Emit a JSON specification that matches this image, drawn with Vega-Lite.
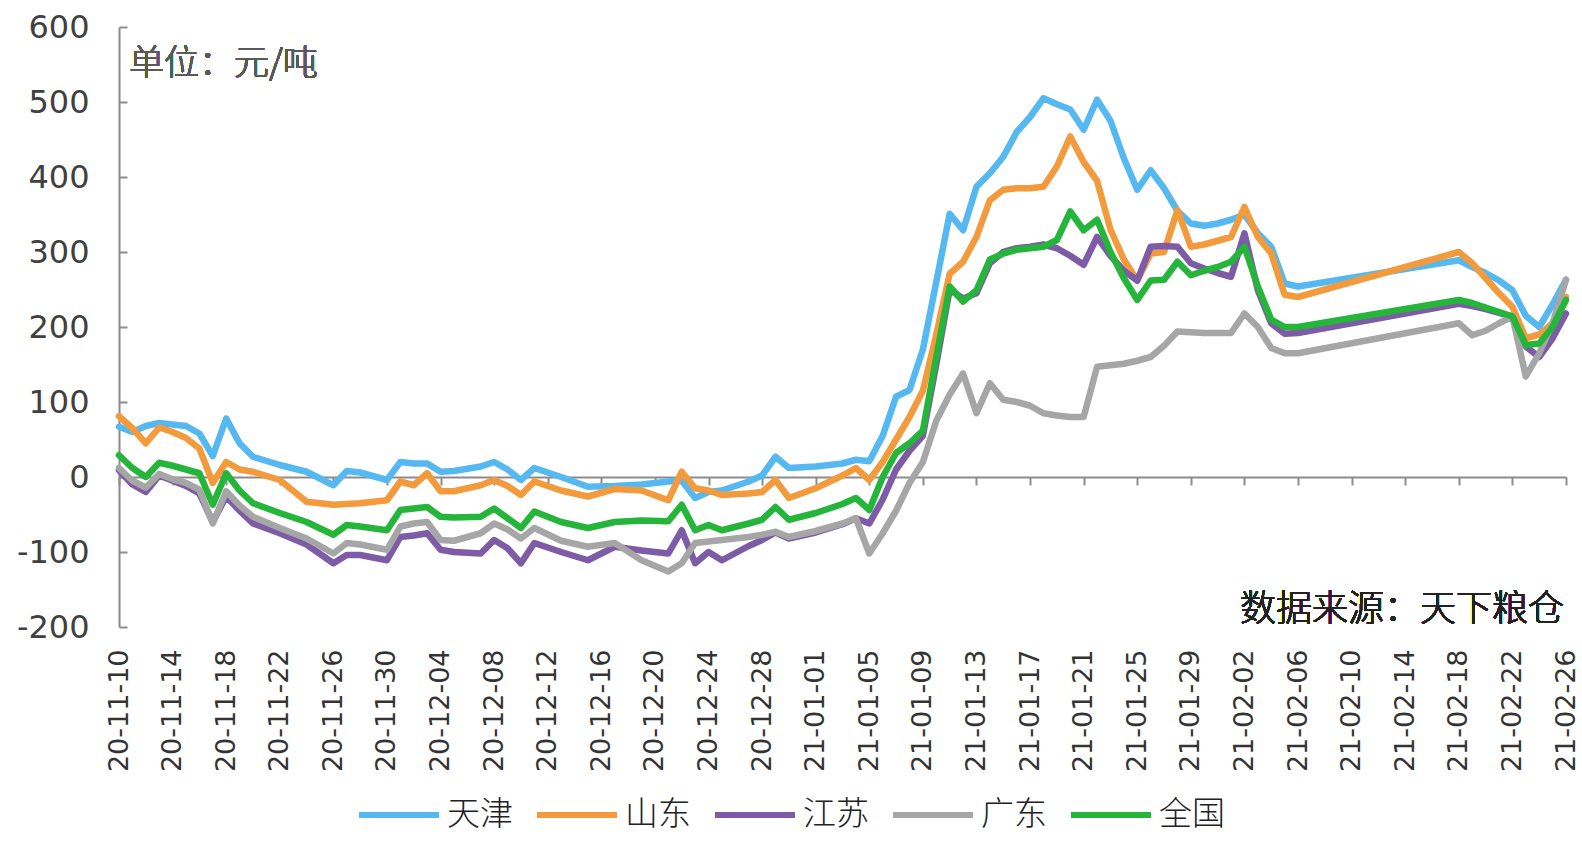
{
  "$schema": "https://vega.github.io/schema/vega-lite/v6.json",
  "width": 1447,
  "height": 600,
  "autosize": {"type": "none"},
  "padding": {"left": 119, "top": 27, "right": 16, "bottom": 215},
  "background": "white",
  "config": {"view": {"stroke": null}, "font": "Noto Sans CJK SC"},
  "data": {"values": [
    {"date":"2020/11/10","天津":67,"山东":81,"江苏":9,"广东":12,"全国":29},
    {"date":"2020/11/11","天津":60,"山东":65,"江苏":-10,"广东":-5,"全国":12},
    {"date":"2020/11/12","天津":68,"山东":45,"江苏":-20,"广东":-14,"全国":0},
    {"date":"2020/11/13","天津":72,"山东":66,"江苏":2,"广东":4,"全国":19},
    {"date":"2020/11/14","天津":70,"山东":60,"江苏":-5,"广东":-3,"全国":15},
    {"date":"2020/11/15","天津":68,"山东":52,"江苏":-12,"广东":-8,"全国":10},
    {"date":"2020/11/16","天津":58,"山东":38,"江苏":-22,"广东":-17,"全国":5},
    {"date":"2020/11/17","天津":28,"山东":-8,"江苏":-60,"广东":-62,"全国":-37},
    {"date":"2020/11/18","天津":78,"山东":20,"江苏":-26,"广东":-19,"全国":5},
    {"date":"2020/11/19","天津":45,"山东":10,"江苏":-45,"广东":-38,"全国":-18},
    {"date":"2020/11/20","天津":27,"山东":7,"江苏":-62,"广东":-53,"全国":-35},
    {"date":"2020/11/22","天津":16,"山东":-4,"江苏":-75,"广东":-68,"全国":-48},
    {"date":"2020/11/24","天津":7,"山东":-33,"江苏":-90,"广东":-82,"全国":-60},
    {"date":"2020/11/26","天津":-11,"山东":-37,"江苏":-115,"广东":-102,"全国":-77},
    {"date":"2020/11/27","天津":8,"山东":-36,"江苏":-104,"广东":-88,"全国":-64},
    {"date":"2020/11/28","天津":6,"山东":-35,"江苏":-104,"广东":-90,"全国":-66},
    {"date":"2020/11/30","天津":-4,"山东":-31,"江苏":-111,"广东":-97,"全国":-71},
    {"date":"2020/12/01","天津":20,"山东":-6,"江苏":-80,"广东":-66,"全国":-44},
    {"date":"2020/12/02","天津":18,"山东":-11,"江苏":-78,"广东":-62,"全国":-42},
    {"date":"2020/12/03","天津":18,"山东":5,"江苏":-75,"广东":-60,"全国":-40},
    {"date":"2020/12/04","天津":7,"山东":-19,"江苏":-97,"广东":-84,"全国":-53},
    {"date":"2020/12/05","天津":8,"山东":-19,"江苏":-100,"广东":-85,"全国":-54},
    {"date":"2020/12/07","天津":14,"山东":-11,"江苏":-102,"广东":-75,"全国":-53},
    {"date":"2020/12/08","天津":20,"山东":-4,"江苏":-84,"广东":-62,"全国":-42},
    {"date":"2020/12/09","天津":10,"山东":-12,"江苏":-95,"广东":-70,"全国":-55},
    {"date":"2020/12/10","天津":-4,"山东":-24,"江苏":-115,"广东":-82,"全国":-68},
    {"date":"2020/12/11","天津":12,"山东":-6,"江苏":-88,"广东":-68,"全国":-46},
    {"date":"2020/12/13","天津":0,"山东":-18,"江苏":-100,"广东":-85,"全国":-60},
    {"date":"2020/12/15","天津":-13,"山东":-26,"江苏":-111,"广东":-93,"全国":-68},
    {"date":"2020/12/17","天津":-12,"山东":-16,"江苏":-93,"广东":-88,"全国":-60},
    {"date":"2020/12/19","天津":-10,"山东":-18,"江苏":-98,"广东":-111,"全国":-58},
    {"date":"2020/12/21","天津":-6,"山东":-31,"江苏":-102,"广东":-126,"全国":-59},
    {"date":"2020/12/22","天津":-5,"山东":7,"江苏":-71,"广东":-115,"全国":-37},
    {"date":"2020/12/23","天津":-28,"山东":-15,"江苏":-115,"广东":-88,"全国":-71},
    {"date":"2020/12/24","天津":-20,"山东":-18,"江苏":-100,"广东":-86,"全国":-64},
    {"date":"2020/12/25","天津":-18,"山东":-24,"江苏":-111,"广东":-84,"全国":-71},
    {"date":"2020/12/27","天津":-6,"山东":-22,"江苏":-92,"广东":-80,"全国":-62},
    {"date":"2020/12/28","天津":2,"山东":-20,"江苏":-84,"广东":-77,"全国":-57},
    {"date":"2020/12/29","天津":27,"山东":-4,"江苏":-74,"广东":-73,"全国":-40},
    {"date":"2020/12/30","天津":12,"山东":-28,"江苏":-82,"广东":-80,"全国":-57},
    {"date":"2021/01/01","天津":14,"山东":-15,"江苏":-74,"广东":-72,"全国":-48},
    {"date":"2021/01/03","天津":18,"山东":2,"江苏":-63,"广东":-62,"全国":-36},
    {"date":"2021/01/04","天津":23,"山东":12,"江苏":-55,"广东":-55,"全国":-28},
    {"date":"2021/01/05","天津":21,"山东":-4,"江苏":-62,"广东":-102,"全国":-44},
    {"date":"2021/01/06","天津":55,"山东":20,"江苏":-30,"广东":-75,"全国":0},
    {"date":"2021/01/07","天津":107,"山东":50,"江苏":10,"广东":-45,"全国":32},
    {"date":"2021/01/08","天津":116,"山东":80,"江苏":35,"广东":-8,"全国":45},
    {"date":"2021/01/09","天津":170,"山东":115,"江苏":55,"广东":20,"全国":62},
    {"date":"2021/01/10","天津":260,"山东":190,"江苏":150,"广东":75,"全国":160},
    {"date":"2021/01/11","天津":351,"山东":271,"江苏":250,"广东":110,"全国":254},
    {"date":"2021/01/12","天津":329,"山东":287,"江苏":238,"广东":138,"全国":234},
    {"date":"2021/01/13","天津":387,"山东":320,"江苏":245,"广东":85,"全国":249},
    {"date":"2021/01/14","天津":405,"山东":369,"江苏":285,"广东":125,"全国":290},
    {"date":"2021/01/15","天津":427,"山东":383,"江苏":300,"广东":103,"全国":298},
    {"date":"2021/01/16","天津":460,"山东":385,"江苏":305,"广东":100,"全国":303},
    {"date":"2021/01/17","天津":480,"山东":385,"江苏":307,"广东":95,"全国":305},
    {"date":"2021/01/18","天津":505,"山东":387,"江苏":310,"广东":85,"全国":307},
    {"date":"2021/01/19","天津":497,"山东":414,"江苏":305,"广东":82,"全国":316},
    {"date":"2021/01/20","天津":490,"山东":454,"江苏":295,"广东":80,"全国":354},
    {"date":"2021/01/21","天津":463,"山东":420,"江苏":283,"广东":80,"全国":329},
    {"date":"2021/01/22","天津":503,"山东":395,"江苏":320,"广东":147,"全国":343},
    {"date":"2021/01/23","天津":475,"山东":330,"江苏":295,"广东":149,"全国":300},
    {"date":"2021/01/24","天津":425,"山东":290,"江苏":275,"广东":151,"全国":265},
    {"date":"2021/01/25","天津":383,"山东":262,"江苏":262,"广东":155,"全国":236},
    {"date":"2021/01/26","天津":409,"山东":298,"江苏":307,"广东":160,"全国":262},
    {"date":"2021/01/27","天津":385,"山东":300,"江苏":308,"广东":175,"全国":263},
    {"date":"2021/01/28","天津":355,"山东":356,"江苏":307,"广东":194,"全国":287},
    {"date":"2021/01/29","天津":338,"山东":307,"江苏":285,"广东":193,"全国":269},
    {"date":"2021/01/30","天津":335,"山东":310,"江苏":278,"广东":192,"全国":275},
    {"date":"2021/01/31","天津":338,"山东":315,"江苏":272,"广东":192,"全国":280},
    {"date":"2021/02/01","天津":343,"山东":320,"江苏":267,"广东":192,"全国":287},
    {"date":"2021/02/02","天津":350,"山东":360,"江苏":325,"广东":218,"全国":307},
    {"date":"2021/02/03","天津":325,"山东":320,"江苏":249,"广东":200,"全国":254},
    {"date":"2021/02/04","天津":307,"山东":298,"江苏":205,"广东":172,"全国":210},
    {"date":"2021/02/05","天津":258,"山东":243,"江苏":191,"广东":165,"全国":200},
    {"date":"2021/02/06","天津":254,"山东":240,"江苏":192,"广东":165,"全国":200},
    {"date":"2021/02/18","天津":289,"山东":300,"江苏":231,"广东":205,"全国":236},
    {"date":"2021/02/19","天津":280,"山东":285,"江苏":228,"广东":189,"全国":232},
    {"date":"2021/02/20","天津":272,"山东":265,"江苏":224,"广东":195,"全国":226},
    {"date":"2021/02/21","天津":262,"山东":245,"江苏":219,"广东":205,"全国":220},
    {"date":"2021/02/22","天津":249,"山东":227,"江苏":214,"广东":214,"全国":214},
    {"date":"2021/02/23","天津":215,"山东":185,"江苏":174,"广东":134,"全国":176},
    {"date":"2021/02/24","天津":200,"山东":190,"江苏":160,"广东":165,"全国":178},
    {"date":"2021/02/25","天津":230,"山东":205,"江苏":185,"广东":205,"全国":200},
    {"date":"2021/02/26","天津":263,"山东":240,"江苏":218,"广东":263,"全国":236}
  ]},
  "layer": [
    {
      "transform": [{"fold": ["天津", "山东", "江苏", "广东", "全国"], "as": ["地区", "价差"]}],
      "mark": {"type": "line", "strokeWidth": 6.5, "strokeJoin": "round", "strokeCap": "round"},
      "encoding": {
        "x": {
          "field": "date", "type": "temporal",
          "scale": {"domain": [{"year": 2020, "month": 11, "date": 10}, {"year": 2021, "month": 2, "date": 26}]},
          "axis": {
            "title": null, "grid": false, "offset": -150,
            "values": [
              {"year": 2020, "month": 11, "date": 10}, {"year": 2020, "month": 11, "date": 14}, {"year": 2020, "month": 11, "date": 18},
              {"year": 2020, "month": 11, "date": 22}, {"year": 2020, "month": 11, "date": 26}, {"year": 2020, "month": 11, "date": 30},
              {"year": 2020, "month": 12, "date": 4}, {"year": 2020, "month": 12, "date": 8}, {"year": 2020, "month": 12, "date": 12},
              {"year": 2020, "month": 12, "date": 16}, {"year": 2020, "month": 12, "date": 20}, {"year": 2020, "month": 12, "date": 24},
              {"year": 2020, "month": 12, "date": 28}, {"year": 2021, "month": 1, "date": 1}, {"year": 2021, "month": 1, "date": 5},
              {"year": 2021, "month": 1, "date": 9}, {"year": 2021, "month": 1, "date": 13}, {"year": 2021, "month": 1, "date": 17},
              {"year": 2021, "month": 1, "date": 21}, {"year": 2021, "month": 1, "date": 25}, {"year": 2021, "month": 1, "date": 29},
              {"year": 2021, "month": 2, "date": 2}, {"year": 2021, "month": 2, "date": 6}, {"year": 2021, "month": 2, "date": 10},
              {"year": 2021, "month": 2, "date": 14}, {"year": 2021, "month": 2, "date": 18}, {"year": 2021, "month": 2, "date": 22},
              {"year": 2021, "month": 2, "date": 26}
            ],
            "format": "%y-%m-%d", "labelAngle": -90, "labelAlign": "right", "labelBaseline": "middle",
            "tickSize": 8, "labelPadding": 164, "labelOverlap": false, "labelBound": false, "labelFlush": false,
            "domainColor": "#8c8c8c", "domainWidth": 2, "tickColor": "#8c8c8c", "tickWidth": 2,
            "labelFont": "DejaVu Sans", "labelFontSize": 27, "labelColor": "#333333"
          }
        },
        "y": {
          "field": "价差", "type": "quantitative",
          "scale": {"domain": [-200, 600], "nice": false, "zero": false},
          "axis": {
            "title": null, "grid": false, "values": [-200, -100, 0, 100, 200, 300, 400, 500, 600],
            "labelExpr": "'' + datum.value", "tickSize": -8, "labelPadding": 38,
            "domainColor": "#8c8c8c", "domainWidth": 2, "tickColor": "#8c8c8c", "tickWidth": 2,
            "labelFont": "DejaVu Sans", "labelFontSize": 32, "labelColor": "#404040"
          }
        },
        "color": {
          "field": "地区", "type": "nominal",
          "scale": {"domain": ["天津", "山东", "江苏", "广东", "全国"], "range": ["#55B8F0", "#F39A3C", "#7D5BA6", "#A6A6A6", "#25B53A"]},
          "legend": {
            "title": null, "orient": "none", "direction": "horizontal", "legendX": 237, "legendY": 745,
            "symbolType": "stroke", "symbolSize": 6400, "symbolStrokeWidth": 6,
            "labelFont": "Noto Sans CJK SC", "labelFontSize": 33, "labelFontWeight": 300, "labelColor": "#222222",
            "labelOffset": 5, "columnPadding": 12
          }
        }
      }
    },
    {
      "mark": {"type": "text", "align": "left", "baseline": "middle", "dx": 10, "fontSize": 35, "font": "Noto Sans CJK SC", "fontWeight": 300, "color": "#595959"},
      "encoding": {
        "x": {"datum": {"year": 2020, "month": 11, "date": 10}, "type": "temporal"},
        "y": {"datum": 551, "type": "quantitative"},
        "text": {"value": "单位：元/吨"}
      }
    },
    {
      "mark": {"type": "text", "align": "right", "baseline": "middle", "dx": -2, "fontSize": 36, "font": "Noto Sans CJK SC", "fontWeight": 300, "color": "#222222"},
      "encoding": {
        "x": {"datum": {"year": 2021, "month": 2, "date": 26}, "type": "temporal"},
        "y": {"datum": -177, "type": "quantitative"},
        "text": {"value": "数据来源：天下粮仓"}
      }
    }
  ]
}
